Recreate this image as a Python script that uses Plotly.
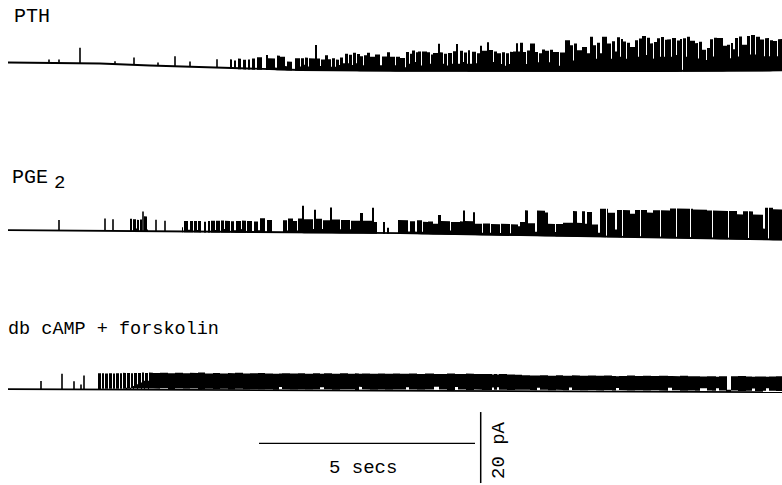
import numpy as np
import plotly.graph_objects as go

# ---------------- data ----------------
# time axis: samples, 1 sample = 5/216 s ; current in pA
DT = 5.0 / 216.0
PA_PX = 3.55  # display gain (px per pA) used to size the y range

trace_names = ["PTH", "PGE", "db cAMP + forskolin"]
trace_offsets = [119.0, 71.8, 27.0]   # vertical stacking offsets (pA)

# baseline (closed level) drift, pA
pth_base_t = [8, 60, 100, 150, 200, 240, 300, 400, 520, 650, 782]
pth_base_v = [0, -0.14, -0.28, -0.85, -1.27, -1.69, -2.1, -2.3, -2.4, -2.4, -2.2]
pge_base_t = [8, 130, 260, 400, 520, 650, 782]
pge_base_v = [0, -0.3, -0.56, -0.85, -1.41, -1.97, -2.68]
camp_base_t = [8, 150, 300, 520, 782]
camp_base_v = [0, -0.14, -0.42, -0.56, -0.85]

# isolated brief openings (sample, amplitude pA)
pth_spike_t = [49, 59, 80, 115, 134, 158, 175, 190, 217]
pth_spike_a = [1.0, 1.0, 4.4, 0.85, 2.1, 0.9, 2.8, 1.5, 2.4]
pge_spike_t = [59, 105, 113, 143, 156, 165]
pge_spike_a = [3.0, 3.5, 3.3, 5.6, 3.3, 3.0]
camp_spike_t = [41, 62, 74, 81, 84]
camp_spike_a = [2.3, 4.4, 2.3, 1.4, 3.9]

# open periods: (start sample, end sample, open level pA)
pth_open = [
    (230, 232, 2.5), (234, 236, 2.2), (238, 241, 2.8), (243, 246, 2.5), (248, 250, 2.6),
    (252, 255, 2.9), (257, 262, 3.3), (266, 268, 4.0), (268, 275, 3.1), (275, 277, 0.5),
    (277, 280, 3.9), (280, 285, 3.6), (285, 287, 1.0), (287, 292, 2.3), (295, 300, 3.3),
    (300, 301, 1.0), (301, 304, 3.3), (304, 305, 1.5), (305, 308, 3.5), (308, 309, 1.0),
    (309, 315, 3.3), (315, 317, 7.1), (317, 320, 3.3), (320, 321, 1.2), (321, 325, 3.0),
    (325, 328, 4.2), (328, 331, 3.1), (331, 332, 1.0), (332, 335, 3.4), (335, 336, 1.0),
    (336, 339, 3.0), (339, 340, 1.5), (340, 343, 3.6), (343, 345, 2.0), (345, 348, 4.7),
    (348, 349, 2.0), (349, 352, 4.4), (352, 353, 1.5), (353, 356, 5.0), (356, 357, 2.0),
    (357, 360, 4.6), (360, 363, 4.0), (363, 364, 1.5), (364, 367, 4.3), (367, 370, 5.0),
    (370, 375, 3.9), (375, 380, 4.5), (380, 382, 1.5), (382, 387, 4.0), (387, 390, 5.2),
    (390, 395, 3.9), (395, 396, 1.5), (396, 400, 3.9), (400, 405, 3.6), (405, 406, 1.0),
    (406, 409, 5.3), (409, 410, 2.0), (410, 412, 4.8), (412, 415, 5.7), (415, 416, 2.5),
    (416, 418, 5.2), (418, 421, 5.4), (421, 422, 1.5), (422, 427, 5.4), (427, 430, 5.2),
    (430, 431, 2.0), (431, 433, 4.6), (433, 438, 5.0), (438, 440, 7.6), (440, 443, 5.2),
    (443, 444, 2.0), (444, 447, 4.8), (447, 448, 1.5), (448, 452, 5.0), (452, 453, 2.0),
    (453, 456, 5.5), (456, 458, 7.6), (458, 460, 2.0), (460, 463, 5.7), (463, 464, 2.5),
    (464, 467, 5.2), (467, 468, 2.0), (468, 470, 5.8), (470, 472, 2.0), (472, 476, 5.4),
    (476, 477, 2.2), (477, 480, 5.0), (480, 482, 7.1), (482, 487, 5.7), (487, 489, 8.1),
    (489, 493, 5.9), (493, 494, 2.5), (494, 497, 5.5), (497, 501, 5.0), (501, 502, 2.0),
    (502, 505, 5.3), (505, 506, 1.5), (506, 509, 5.0), (509, 510, 2.0), (510, 513, 5.4),
    (513, 516, 5.5), (516, 518, 7.8), (518, 520, 5.5), (520, 523, 8.0), (523, 526, 5.4),
    (526, 527, 2.0), (527, 530, 5.8), (530, 535, 7.8), (535, 538, 5.4), (538, 539, 2.5),
    (539, 542, 5.0), (542, 545, 6.1), (545, 549, 5.7), (549, 550, 2.5), (550, 553, 6.0),
    (553, 559, 5.4), (559, 560, 1.5), (560, 565, 5.2), (565, 570, 8.7), (570, 573, 7.3),
    (573, 574, 3.0), (574, 577, 7.8), (577, 582, 5.9), (582, 587, 6.8), (587, 590, 5.0),
    (590, 593, 9.7), (593, 596, 7.3), (596, 597, 3.5), (597, 600, 8.0), (600, 602, 5.0),
    (602, 607, 9.7), (607, 611, 7.8), (611, 612, 3.5), (612, 615, 8.4), (615, 617, 5.5),
    (617, 620, 9.5), (620, 621, 4.0), (621, 623, 9.0), (623, 626, 8.3), (626, 627, 3.5),
    (627, 630, 8.0), (630, 635, 6.8), (635, 638, 8.7), (638, 639, 4.0), (639, 642, 9.2),
    (642, 646, 9.9), (646, 647, 4.5), (647, 650, 9.4), (650, 653, 7.8), (653, 654, 3.5),
    (654, 657, 8.2), (657, 660, 9.2), (660, 661, 4.0), (661, 664, 9.6), (664, 665, 4.0),
    (665, 667, 8.8), (667, 671, 8.9), (671, 672, 4.0), (672, 676, 9.3), (676, 677, 4.5),
    (677, 680, 8.6), (680, 682, 9.0), (683, 686, 9.2), (686, 687, 4.0), (687, 690, 9.6),
    (690, 695, 8.5), (695, 698, 7.8), (698, 699, 3.5), (699, 702, 8.2), (702, 706, 5.9),
    (706, 707, 3.0), (707, 710, 6.4), (710, 713, 8.9), (713, 714, 4.0), (714, 717, 9.3),
    (717, 723, 9.2), (723, 727, 7.0), (727, 730, 7.3), (730, 731, 3.5), (731, 733, 7.8),
    (733, 735, 6.0), (735, 738, 9.2), (738, 739, 4.0), (739, 742, 9.6), (742, 747, 7.3),
    (747, 750, 9.7), (750, 751, 4.5), (751, 755, 10.0), (755, 756, 4.5), (756, 760, 9.5),
    (760, 764, 8.7), (764, 765, 4.0), (765, 769, 9.1), (769, 770, 4.0), (770, 773, 8.5),
    (773, 777, 8.3), (777, 778, 4.0), (778, 782, 8.8),
]

pge_open = [
    (130, 132, 3.5), (133, 136, 3.4), (136, 137, 0.8), (137, 139, 3.2), (140, 142, 3.3),
    (144, 147, 4.2), (147, 148, 0.5), (182, 183, 1.2), (184, 188, 3.0), (188, 190, 0.5),
    (190, 193, 3.0), (194, 197, 3.0), (197, 198, 0.5), (198, 201, 3.0), (204, 206, 2.8),
    (208, 210, 3.0), (211, 215, 3.1), (215, 216, 0.5), (216, 220, 3.1), (221, 224, 3.2),
    (224, 225, 0.8), (225, 230, 3.1), (231, 234, 3.0), (234, 236, 0.5), (236, 241, 3.1),
    (241, 242, 0.8), (242, 246, 3.2), (247, 252, 3.1), (254, 258, 3.0), (258, 260, 0.5),
    (260, 265, 3.9), (267, 272, 3.4), (283, 287, 3.4), (287, 288, 0.5), (288, 293, 3.9),
    (293, 297, 3.2), (297, 298, 0.5), (298, 302, 3.9), (302, 304, 7.5), (304, 313, 3.7),
    (313, 314, 1.0), (314, 316, 6.4), (316, 322, 3.9), (322, 323, 1.0), (323, 330, 3.5),
    (330, 332, 7.1), (332, 340, 3.7), (340, 341, 1.0), (341, 350, 3.6), (350, 351, 1.0),
    (351, 360, 3.4), (360, 363, 5.6), (363, 372, 3.4), (372, 374, 7.1), (374, 377, 3.1),
    (383, 385, 3.1), (387, 389, 1.5), (398, 408, 3.7), (408, 410, 0.5), (410, 415, 3.4),
    (415, 417, 0.5), (417, 422, 3.7), (422, 423, 0.5), (423, 428, 3.3), (428, 433, 3.4),
    (433, 438, 2.8), (438, 441, 5.3), (441, 450, 3.6), (450, 451, 1.0), (451, 460, 3.4),
    (460, 463, 3.6), (463, 465, 6.7), (465, 473, 3.7), (473, 475, 6.2), (475, 482, 3.0),
    (482, 483, 0.5), (483, 490, 3.1), (490, 491, 0.5), (491, 500, 3.0), (500, 501, 0.5),
    (501, 510, 3.1), (510, 511, 0.5), (511, 518, 3.0), (518, 520, 2.5), (520, 525, 3.7),
    (525, 528, 7.0), (528, 535, 3.4), (535, 537, 1.0), (537, 545, 7.0), (545, 548, 6.5),
    (548, 555, 3.3), (555, 556, 1.0), (556, 563, 3.3), (563, 573, 3.7), (573, 577, 7.0),
    (577, 582, 3.7), (582, 585, 7.0), (585, 587, 3.5), (587, 592, 6.8), (592, 598, 3.3),
    (598, 600, 1.0), (600, 606, 7.8), (607, 608, 7.8), (608, 615, 6.7), (615, 617, 2.0),
    (617, 622, 7.5), (623, 630, 7.5), (630, 635, 6.5), (635, 640, 7.6), (641, 647, 7.6),
    (647, 653, 6.9), (653, 660, 7.6), (661, 670, 7.6), (670, 676, 8.2), (677, 690, 8.2),
    (691, 693, 8.2), (693, 707, 8.0), (707, 712, 7.8), (713, 720, 7.8), (720, 728, 7.8),
    (729, 737, 7.8), (737, 743, 6.9), (743, 748, 7.8), (749, 753, 7.8), (753, 763, 6.9),
    (763, 765, 3.0), (765, 768, 8.9), (769, 773, 8.9), (773, 782, 8.5),
]

# cAMP trace: (start, end, open level pA, lowest closure excursion above baseline pA)
camp_open = [
    (98, 101, 4.6, 0.1), (102, 104, 4.6, 0.2), (105, 108, 4.5, 0.2), (109, 112, 4.6, 0.2),
    (113, 115, 4.5, 0.2), (116, 119, 4.6, 0.2), (120, 122, 4.6, 0.2), (123, 126, 4.7, 0.2),
    (126, 127, 0.5, 0.0), (127, 130, 4.7, 0.2), (130, 131, 0.5, 0.0), (131, 133, 4.6, 0.3),
    (133, 134, 1.0, 0.0), (134, 137, 4.7, 0.3), (137, 138, 1.5, 0.0), (138, 141, 4.7, 0.3),
    (141, 142, 2.0, 0.0), (142, 144, 4.8, 0.3), (144, 145, 2.5, 0.0), (145, 148, 4.7, 0.3),
    (148, 149, 2.5, 0.0), (149, 153, 4.8, 0.3),
    (153, 160, 4.7, 0.3), (160, 168, 4.8, 0.4), (168, 175, 4.7, 0.2), (175, 183, 4.8, 0.4),
    (183, 190, 4.7, 0.3), (190, 198, 4.8, 0.4), (198, 205, 4.9, 0.2), (205, 213, 4.7, 0.4),
    (213, 220, 4.8, 0.3), (220, 228, 4.7, 0.4), (228, 235, 4.8, 0.2), (235, 243, 4.9, 0.4),
    (243, 250, 4.7, 0.3), (250, 258, 4.8, 0.4), (258, 265, 4.9, 0.3), (265, 273, 4.8, 0.4),
    (273, 279, 4.7, 0.2), (279, 282, 4.8, 1.0), (282, 290, 4.9, 0.4), (290, 298, 4.8, 0.3),
    (298, 305, 4.9, 0.4), (305, 313, 4.8, 0.3), (313, 320, 4.9, 0.4), (320, 324, 4.8, 1.0),
    (324, 332, 4.9, 0.4), (332, 340, 4.8, 0.3), (340, 348, 4.9, 0.4), (348, 355, 4.8, 0.4),
    (355, 359, 4.9, 0.2), (359, 362, 4.8, 1.1), (362, 370, 4.9, 0.4), (370, 378, 4.8, 0.3),
    (378, 385, 4.9, 0.4), (385, 393, 4.8, 0.3), (393, 400, 4.9, 0.4), (400, 406, 4.8, 0.4),
    (406, 409, 4.8, 1.0), (409, 417, 4.9, 0.4), (417, 425, 4.8, 0.3), (425, 434, 4.9, 0.4),
    (434, 439, 4.8, 1.2), (439, 447, 4.8, 0.4), (447, 455, 4.9, 0.3), (455, 458, 4.8, 1.1),
    (458, 466, 4.8, 0.4), (466, 474, 4.9, 0.3), (474, 482, 4.8, 0.4), (482, 492, 4.8, 0.3),
    (492, 494, 4.7, 1.0), (494, 497, 4.8, 0.4), (497, 499, 4.7, 1.1), (499, 507, 4.8, 0.4),
    (507, 515, 4.7, 0.3), (515, 522, 4.6, 0.4), (522, 530, 4.5, 0.4), (530, 537, 4.4, 0.3),
    (537, 540, 4.4, 1.0), (540, 548, 4.5, 0.4), (548, 556, 4.4, 0.3), (556, 563, 4.5, 0.4),
    (563, 569, 4.4, 0.3), (569, 572, 4.4, 1.1), (572, 580, 4.5, 0.4), (580, 588, 4.4, 0.3),
    (588, 596, 4.5, 0.4), (596, 604, 4.4, 0.3), (604, 612, 4.5, 0.4), (612, 616, 4.4, 0.3),
    (616, 619, 4.3, 1.0), (619, 627, 4.4, 0.4), (627, 635, 4.5, 0.3), (635, 643, 4.4, 0.4),
    (643, 651, 4.5, 0.3), (651, 659, 4.4, 0.4), (659, 668, 4.5, 0.3), (668, 672, 4.4, 1.1),
    (672, 680, 4.4, 0.4), (680, 688, 4.5, 0.3), (688, 695, 4.4, 0.4), (695, 700, 4.4, 0.3),
    (700, 707, 4.3, 1.0), (707, 712, 4.4, 0.4), (712, 716, 4.4, 0.3), (716, 719, 4.3, 1.0),
    (719, 726, 4.4, 0.4), (726, 727, 4.4, 0.0), (727, 731, 0.6, 0.0), (731, 738, 4.4, 0.4),
    (738, 746, 4.5, 0.3), (746, 752, 4.4, 0.4), (752, 755, 4.3, 1.0), (755, 763, 4.4, 0.3),
    (763, 766, 4.4, 0.4), (766, 769, 4.3, 1.1), (769, 776, 4.4, 0.4), (776, 782, 4.5, 0.3),
]

scale_time_s = 5.0
scale_current_pA = 20.0

# ---------------- figure ----------------
X_MAX = 782 * DT
Y_MAX = 485 / PA_PX

fig = go.Figure()


def add_trace_set(base_t, base_v, spike_t, spike_a, openings, offset):
    bt = np.array(base_t, float)
    bv = np.array(base_v, float) + offset

    def b(t):
        return float(np.interp(t, bt, bv))

    # baseline (closed level)
    fig.add_trace(go.Scatter(x=bt * DT, y=bv, mode="lines",
                             line=dict(color="black", width=1.9), hoverinfo="skip"))
    # open periods as filled blocks
    xs, ys = [], []
    for item in openings:
        if len(item) == 3:
            s, e, a = item
            lo = -0.2
        else:
            s, e, a, lo = item
        xs += [s * DT, s * DT, e * DT, e * DT, None]
        ys += [b(s) + lo, b(s) + a, b(e) + a, b(e) + lo, None]
    fig.add_trace(go.Scatter(x=xs, y=ys, mode="lines", fill="toself",
                             fillcolor="black", line=dict(color="black", width=0),
                             hoverinfo="skip"))
    # isolated openings
    sx, sy = [], []
    for t, a in zip(spike_t, spike_a):
        sx += [t * DT, t * DT, None]
        sy += [b(t), b(t) + a, None]
    fig.add_trace(go.Scatter(x=sx, y=sy, mode="lines",
                             line=dict(color="black", width=1.6), hoverinfo="skip"))


add_trace_set(pth_base_t, pth_base_v, pth_spike_t, pth_spike_a, pth_open, trace_offsets[0])
add_trace_set(pge_base_t, pge_base_v, pge_spike_t, pge_spike_a, pge_open, trace_offsets[1])
add_trace_set(camp_base_t, camp_base_v, camp_spike_t, camp_spike_a, camp_open, trace_offsets[2])

# scale bars
sb_x0 = 259 * DT
sb_y = 11.7
fig.add_trace(go.Scatter(x=[sb_x0, sb_x0 + scale_time_s], y=[sb_y, sb_y], mode="lines",
                         line=dict(color="black", width=1.3), hoverinfo="skip"))
vb_x = 480.7 * DT
vb_y0 = 0.55
fig.add_trace(go.Scatter(x=[vb_x, vb_x], y=[vb_y0, vb_y0 + scale_current_pA], mode="lines",
                         line=dict(color="black", width=1.5), hoverinfo="skip"))

FONT = dict(family="Liberation Mono, Courier New, monospace", size=19, color="black")


def label(text, px, py, xanchor="left", angle=0, size=19):
    fig.add_annotation(text=text, x=px / 782, y=1 - py / 485, xref="paper", yref="paper",
                       xanchor=xanchor, yanchor="middle", showarrow=False,
                       textangle=angle, font=dict(FONT, size=size), borderpad=0)


label(trace_names[0], 13, 17, size=20)
label(trace_names[1], 11, 177, size=20)
label("2", 53, 183)
label(trace_names[2], 7, 329, size=18.5)
label("5 secs", 363, 468, xanchor="center")
label("20 pA", 499, 450, xanchor="center", angle=-90)

fig.update_layout(
    width=782, height=485,
    margin=dict(l=0, r=0, t=0, b=0),
    paper_bgcolor="white", plot_bgcolor="white",
    showlegend=False,
    xaxis=dict(range=[0, X_MAX], visible=False, fixedrange=True),
    yaxis=dict(range=[0, Y_MAX], visible=False, fixedrange=True),
)

fig.write_html("out.html", config={"displayModeBar": False, "staticPlot": True},
               post_script="document.body.style.margin='0';document.body.style.overflow='hidden';")
